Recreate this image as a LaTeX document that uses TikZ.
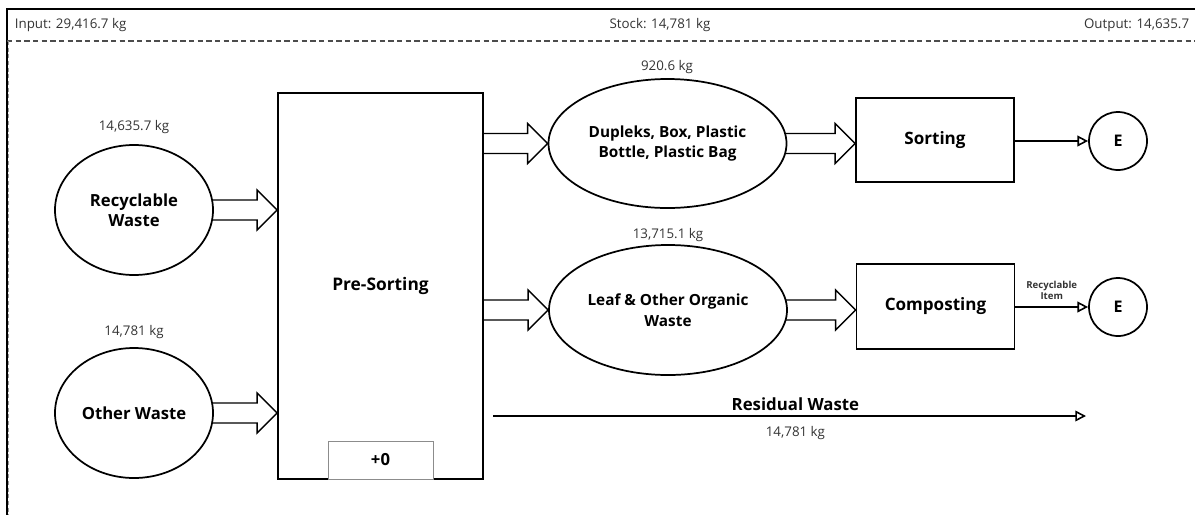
\documentclass[tikz,border=0pt]{standalone}
\usepackage{fontspec}
\setmainfont{Open Sans}
\usetikzlibrary{shapes.geometric,arrows.meta,calc}
\pgfdeclarelayer{bg}\pgfsetlayers{bg,main}
\definecolor{txt}{HTML}{333333}
\newcommand\blockarrow[2]{%
  \begin{pgfonlayer}{bg}
  \path[blk] let \p1=#1, \p2=#2 in
    (\x1-2pt,\y1+7.5pt) -- (\x2-15pt,\y1+7.5pt) -- (\x2-15pt,\y1+15pt) -- (\x2,\y1)
    -- (\x2-15pt,\y1-15pt) -- (\x2-15pt,\y1-7.5pt) -- (\x1-2pt,\y1-7.5pt) -- cycle;
  \end{pgfonlayer}}
\begin{document}
\begin{tikzpicture}[x=0.75pt,y=-0.75pt,line width=1.3pt,
  ell/.style={ellipse,draw,fill=white,inner sep=0pt,align=center,font=\bfseries\fontsize{12.5}{15}\selectfont},
  ellb/.style={ell,font=\bfseries\fontsize{11.5}{15.5}\selectfont},
  boxn/.style={rectangle,draw,fill=white,inner sep=0pt,align=center,font=\bfseries\fontsize{12.8}{15}\selectfont},
  circ/.style={circle,draw,fill=white,inner sep=0pt,minimum size=43.5pt,font=\bfseries\fontsize{12}{14}\selectfont},
  lbl/.style={inner sep=0pt,text=txt,font=\fontsize{10}{12}\selectfont},
  blk/.style={draw,fill=white,line width=1pt,line join=miter},
  thinarrow/.style={line width=1.3pt,-{Triangle[open,length=8pt,width=8pt,line width=1.2pt]}},
  frameline/.style={line width=1.1pt},
  sepline/.style={dashed,dash pattern=on 4pt off 2.5pt,line width=0.9pt,draw=black!70}
]
\useasboundingbox (0,0) rectangle (1195,515);
% frame
\draw[frameline] (6,9) -- (1195,9);
\draw[frameline] (7,9) -- (7,515);
\draw[sepline] (7,41) -- (1195,41);
\draw[dashed,dash pattern=on 3pt off 2pt,line width=0.6pt,draw=black!40] (8.6,41) -- (8.6,515);
% header
\node[lbl,anchor=west] (hin) at (14,25) {Input: 29,416.7 kg};
\node[lbl] (hst) at (660,25) {Stock: 14,781 kg};
\node[lbl,anchor=east] (hout) at (1190,25) {Output: 14,635.7};
% nodes
\node[ell,minimum width=118.5pt,minimum height=97.5pt] (rec) at (134,210) {Recyclable\\Waste};
\node[ell,minimum width=118.5pt,minimum height=97.5pt] (oth) at (134,413) {Other Waste};
\node[boxn,font=\bfseries\fontsize{13}{15}\selectfont,minimum width=153.75pt,minimum height=289.5pt] (pre) at (380.5,286) {Pre-Sorting};
\node[rectangle,draw=black!45,line width=0.7pt,fill=white,minimum width=78.75pt,minimum height=28.5pt,inner sep=0pt,font=\bfseries\fontsize{12.5}{14}\selectfont] (zero) at (380.5,460) {+0};
\node[ellb,minimum width=178.5pt,minimum height=96.75pt] (dup) at (667.5,143.5) {Dupleks, Box, Plastic\\Bottle, Plastic Bag};
\node[ellb,minimum width=178.5pt,minimum height=97.5pt] (leaf) at (668,310) {Leaf \& Other Organic\\Waste};
\node[boxn,minimum width=118.5pt,minimum height=63pt] (sort) at (935,140) {Sorting};
\node[boxn,minimum width=118.5pt,minimum height=63.75pt] (comp) at (935.5,306.5) {Composting};
\node[circ] (e1) at (1118,141) {E};
\node[circ] (e2) at (1118,307) {E};
% weight labels
\node[lbl] (lrec) at (134,127) {14,635.7 kg};
\node[lbl] (loth) at (134,332) {14,781 kg};
\node[lbl] (ldup) at (667,67) {920.6 kg};
\node[lbl] (lleaf) at (668,235) {13,715.1 kg};
% block arrows
\blockarrow{(rec.east)}{(pre.west |- rec.east)}
\blockarrow{(oth.east)}{(pre.west |- oth.east)}
\blockarrow{(pre.east |- dup.west)}{(dup.west)}
\blockarrow{(pre.east |- leaf.west)}{(leaf.west)}
\blockarrow{(dup.east)}{(sort.west |- dup.east)}
\blockarrow{(leaf.east)}{(comp.west |- leaf.east)}
% thin arrows
\draw[thinarrow] (sort.east |- e1.west) -- (e1.west);
\draw[thinarrow] (comp.east |- e2.west) -- (e2.west)
  node[pos=0.5,above=5pt,inner sep=0pt,align=center,text=txt,font=\bfseries\fontsize{7.2}{8.2}\selectfont] (ritem) {Recyclable\\Item};
% residual
\coordinate (rs) at (493,416);
\coordinate (re) at (1086,416);
\draw[thinarrow] (rs) -- (re)
  node[pos=0.51,above=3pt,inner sep=0pt,font=\bfseries\fontsize{12.6}{14}\selectfont] (resl) {Residual Waste}
  node[pos=0.51,below=7pt,lbl] (resw) {14,781 kg};
\end{tikzpicture}
\end{document}
